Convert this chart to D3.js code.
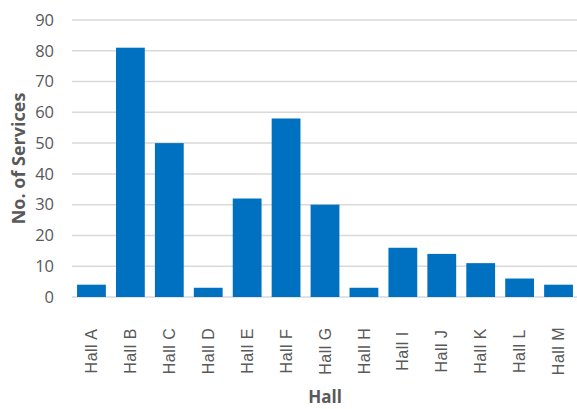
<html>
<head>
<script src="https://cdn.jsdelivr.net/npm/d3@7"></script>
<style>
  body { margin: 0; background: #fff; }
</style>
</head>
<body>
<svg width="577" height="409"></svg>
<script>
	var halls = ['Hall A','Hall B','Hall C','Hall D','Hall E','Hall F','Hall G','Hall H','Hall I','Hall J','Hall K','Hall L','Hall M'];
	var services = [4, 81, 50, 3, 32, 58, 30, 3, 16, 14, 11, 6, 4];
	var yTicks = [0, 10, 20, 30, 40, 50, 60, 70, 80, 90];

	var svg = d3.select('svg');
	var plotL = 72, plotR = 578, plotT = 20, plotB = 297;

	var x = d3.scaleBand().domain(halls).range([plotL, plotR]).paddingInner(0.26).paddingOuter(0.13);
	var y = d3.scaleLinear().domain([0, 90]).range([plotB, plotT]);

	// gridlines
	svg.append('g')
		.selectAll('line').data(yTicks)
		.enter().append('line')
			.attr('x1', plotL)
			.attr('x2', 577)
			.attr('y1', function(d) { return y(d) })
			.attr('y2', function(d) { return y(d) })
			.style('stroke', '#d9d9d9')
			.style('stroke-width', 1.5);

	var yAxis = svg.append('g')
		.attr('transform', 'translate(' + (plotL - 18) + ',0)')
		.call(d3.axisLeft(y).tickValues(yTicks).tickSize(0).tickPadding(0));
	yAxis.select('.domain').remove();
	yAxis.selectAll('text')
		.style('font-family', '"Open Sans", sans-serif')
		.style('font-size', '16.5px')
		.style('fill', '#595959');

	svg.append('g')
		.selectAll('rect').data(services)
		.enter().append('rect')
			.attr('x', function(d, i) { return x(halls[i]) })
			.attr('y', function(d) { return y(d) })
			.attr('width', x.bandwidth())
			.attr('height', function(d) { return y(0) - y(d) })
			.style('fill', '#0070c0');

	// category labels, rotated
	var xAxis = svg.append('g')
		.attr('transform', 'translate(0,' + plotB + ')')
		.call(d3.axisBottom(x).tickSize(0));
	xAxis.select('.domain').remove();
	xAxis.selectAll('text')
		.attr('transform', 'translate(0,54) rotate(-90)')
		.attr('x', 0)
		.attr('y', 0)
		.attr('dy', '0.35em')
		.style('text-anchor', 'middle')
		.style('font-family', '"Liberation Sans", Arial, sans-serif')
		.style('font-size', '16px')
		.style('letter-spacing', '0.5px')
		.style('fill', '#595959');

	svg.append('text')
		.attr('transform', 'translate(25,' + ((plotT + plotB) / 2) + ') rotate(-90)')
		.attr('text-anchor', 'middle')
		.style('font-family', '"Open Sans", sans-serif')
		.style('font-weight', 'bold')
		.style('font-size', '18px')
		.style('fill', '#595959')
		.text('No. of Services');

	svg.append('text')
		.attr('x', (plotL + plotR) / 2)
		.attr('y', 403)
		.attr('text-anchor', 'middle')
		.style('font-family', '"Open Sans", sans-serif')
		.style('font-weight', 'bold')
		.style('font-size', '17px')
		.style('fill', '#595959')
		.text('Hall');
</script>
</body>
</html>
